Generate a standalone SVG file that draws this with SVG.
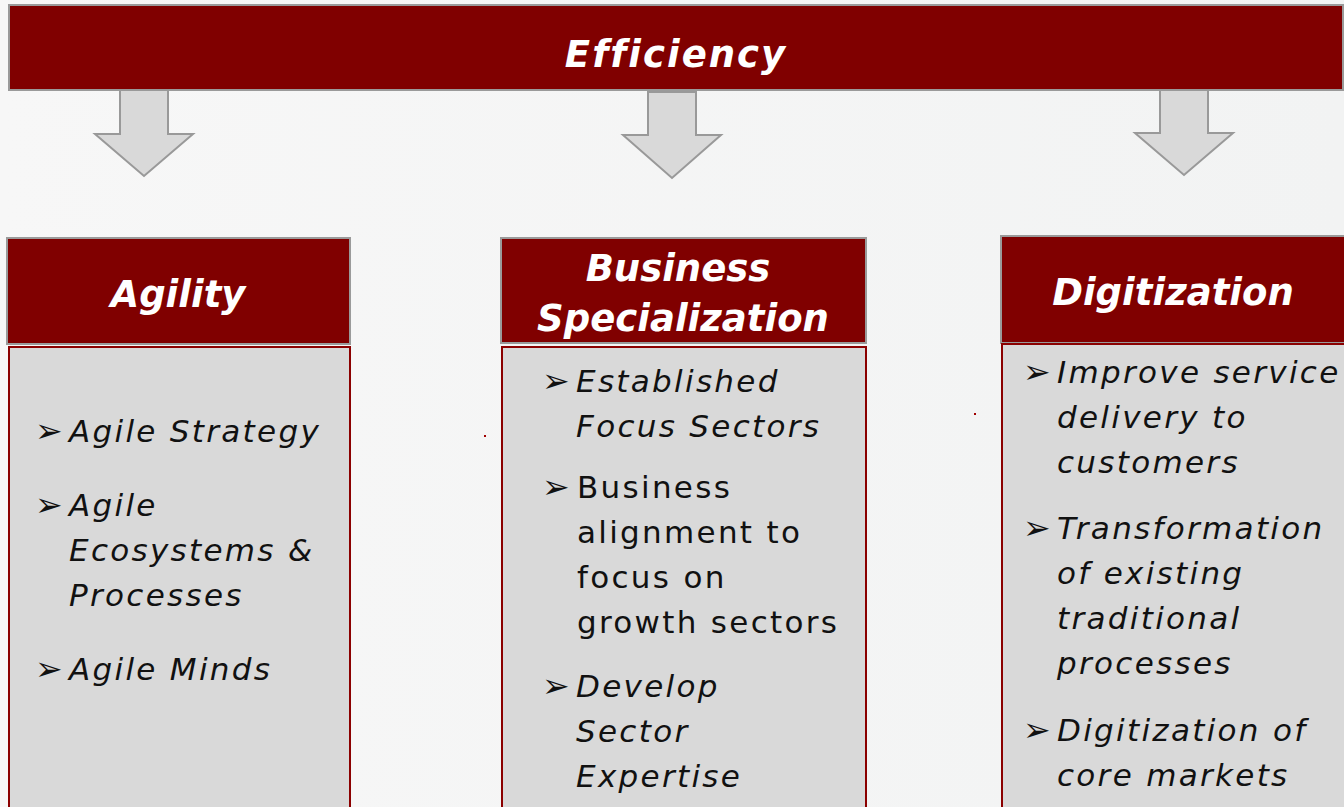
<svg xmlns="http://www.w3.org/2000/svg" width="1344" height="807" viewBox="0 0 1344 807">
<defs>
<linearGradient id="bg" x1="0" y1="0" x2="1" y2="0">
<stop offset="0" stop-color="#f7f7f7"/>
<stop offset="1" stop-color="#f2f3f3"/>
</linearGradient>
<style>
.hdr{fill:#800000;stroke:#9a9a9a;stroke-width:2}
.body{fill:#d9d9d9;stroke:#8b0000;stroke-width:2}
.arrow{fill:#d9d9d9;stroke:#999999;stroke-width:2;stroke-linejoin:miter}
.ht{font-family:"DejaVu Sans",sans-serif;font-weight:bold;font-style:italic;fill:#ffffff;font-size:37px;text-anchor:middle}
.bt{font-family:"DejaVu Sans",sans-serif;font-style:italic;fill:#111111;font-size:31px;letter-spacing:2.3px}
.up{font-style:normal}
.bul{font-family:"DejaVu Sans",sans-serif;fill:#111111;font-size:33px}
</style>
</defs>
<rect width="1344" height="807" fill="url(#bg)"/>

<g id="efficiency">
<rect class="hdr" x="9" y="5" width="1334" height="85"/>
<text class="ht" x="676" y="67" letter-spacing="2">Efficiency</text>
</g>

<g id="connectors">
<polygon class="arrow" points="120,90 168,90 168,134 193,134 144,176 95,134 120,134"/>
<polygon class="arrow" points="648,92 696,92 696,135 721,135 672,178 623,135 648,135"/>
<polygon class="arrow" points="1160,90 1208,90 1208,133 1233,133 1184,175 1135,133 1160,133"/>
</g>

<g id="agility">
<rect class="hdr" x="7" y="238" width="343" height="106"/>
<text class="ht" x="178" y="307" font-size="34">Agility</text>
<rect class="body" x="9" y="347" width="341" height="470"/>
<text class="bul" x="35" y="442">➢</text>
<text class="bt" x="69" y="442">Agile Strategy</text>
<text class="bul" x="35" y="516">➢</text>
<text class="bt" x="69" y="516">Agile</text>
<text class="bt" x="69" y="561">Ecosystems &amp;</text>
<text class="bt" x="69" y="606">Processes</text>
<text class="bul" x="35" y="680">➢</text>
<text class="bt" x="69" y="680">Agile Minds</text>
</g>

<g id="business">
<rect class="hdr" x="501" y="238" width="365" height="105"/>
<text class="ht" x="678" y="281">Business</text>
<text class="ht" x="683" y="331" font-size="36">Specialization</text>
<rect class="body" x="502" y="347" width="364" height="470"/>
<text class="bul" x="542" y="392">➢</text>
<text class="bt" x="576" y="392">Established</text>
<text class="bt" x="576" y="437">Focus Sectors</text>
<text class="bul" x="542" y="498">➢</text>
<text class="bt up" x="577" y="498">Business</text>
<text class="bt up" x="577" y="543">alignment to</text>
<text class="bt up" x="577" y="588">focus on</text>
<text class="bt up" x="577" y="633">growth sectors</text>
<text class="bul" x="542" y="697">➢</text>
<text class="bt" x="576" y="697">Develop</text>
<text class="bt" x="576" y="742">Sector</text>
<text class="bt" x="576" y="787">Expertise</text>
</g>

<g id="digitization">
<rect class="hdr" x="1001" y="236" width="350" height="107"/>
<text class="ht" x="1173" y="305" font-size="34">Digitization</text>
<rect class="body" x="1002" y="344" width="350" height="473"/>
<text class="bul" x="1023" y="383">➢</text>
<text class="bt" x="1057" y="383">Improve service</text>
<text class="bt" x="1057" y="428">delivery to</text>
<text class="bt" x="1057" y="473">customers</text>
<text class="bul" x="1023" y="539">➢</text>
<text class="bt" x="1057" y="539">Transformation</text>
<text class="bt" x="1057" y="584">of existing</text>
<text class="bt" x="1057" y="629">traditional</text>
<text class="bt" x="1057" y="674">processes</text>
<text class="bul" x="1023" y="741">➢</text>
<text class="bt" x="1057" y="741">Digitization of</text>
<text class="bt" x="1057" y="786">core markets</text>
</g>

<rect x="484" y="435" width="2" height="2" fill="#a00000"/>
<rect x="974" y="413" width="2" height="2" fill="#a00000"/>
</svg>
